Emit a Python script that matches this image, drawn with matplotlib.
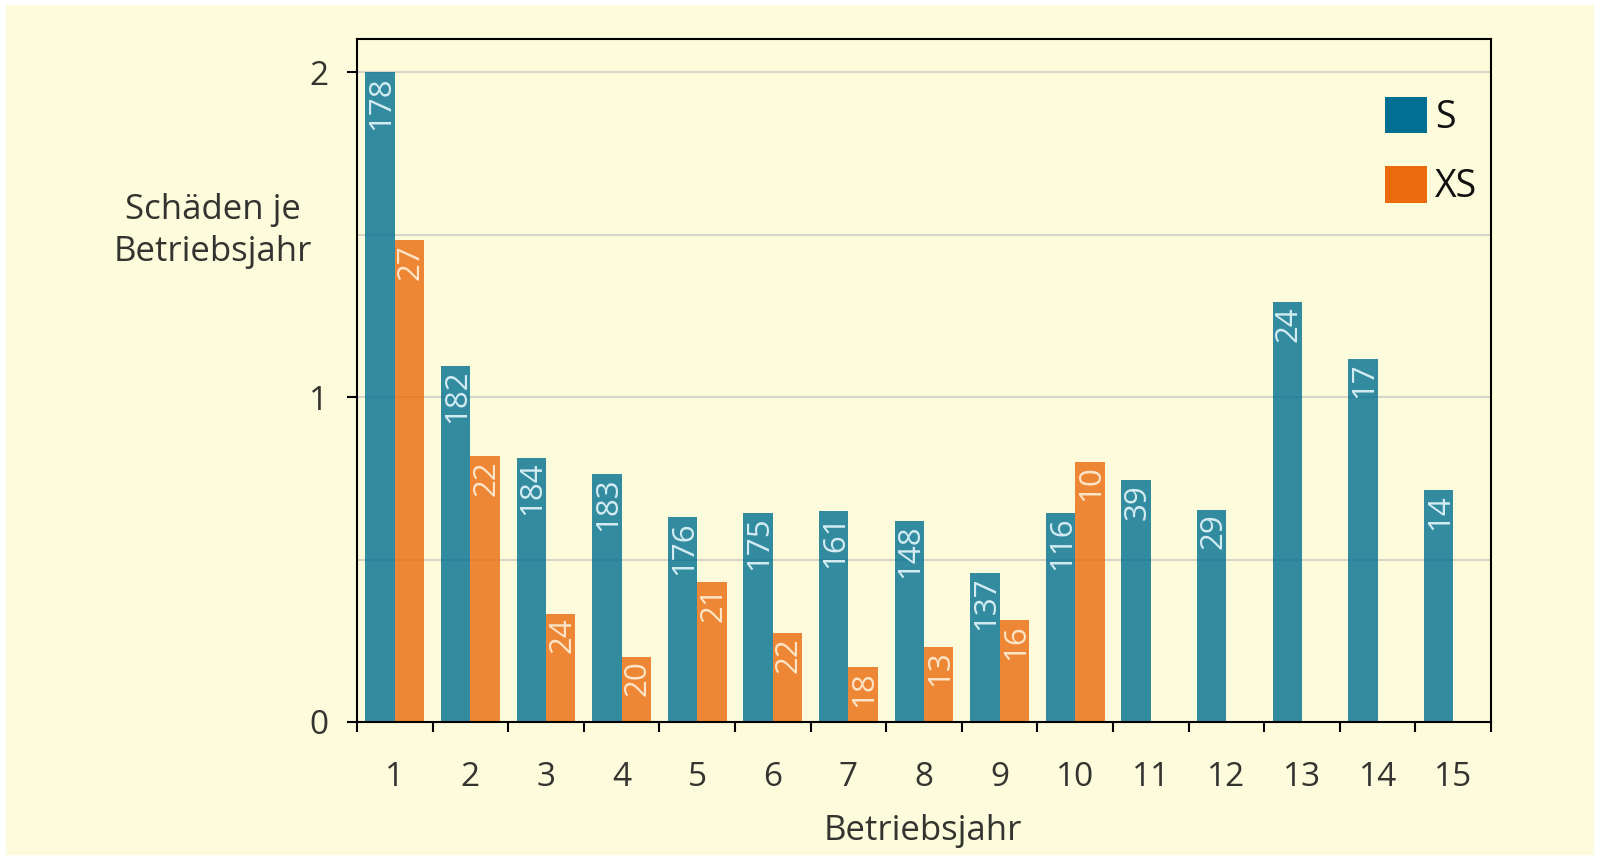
import matplotlib
matplotlib.use("Agg")
import matplotlib.pyplot as plt
from matplotlib.patches import Rectangle, Patch
import numpy as np

plt.rcParams['font.family'] = ['Open Sans', 'DejaVu Sans']

# Schäden je Betriebsjahr, nach Betriebsjahr und Anlagenklasse
years = list(range(1, 16))
s_rate = [2.00, 1.095, 0.814, 0.765, 0.630, 0.645, 0.651, 0.620, 0.459, 0.645,
          0.744, 0.654, 1.292, 1.119, 0.713]
s_count = [178, 182, 184, 183, 176, 175, 161, 148, 137, 116, 39, 29, 24, 17, 14]
xs_rate = [1.483, 0.818, 0.334, 0.201, 0.430, 0.273, 0.168, 0.232, 0.313, 0.802]
xs_count = [27, 22, 24, 20, 21, 22, 18, 13, 16, 10]
series_names = ["S", "XS"]

S_COLOR = "#006F92"
XS_COLOR = "#EA6A0C"
BG = "#FCFBDB"
TXT = "#333330"

W, H = 1600, 859
fig = plt.figure(figsize=(W / 100, H / 100), dpi=100, facecolor="white")
fig.patches.append(Rectangle((6 / W, 4 / H), (W - 12) / W, (H - 9) / H,
                             transform=fig.transFigure, facecolor=BG,
                             edgecolor="none", zorder=-10))

ax = fig.add_axes([357 / W, 1 - 722 / H, (1491 - 357) / W, (722 - 39) / H])
ax.set_facecolor(BG)

bw = 0.39
x_s = np.array(years[:len(s_rate)], dtype=float)
x_xs = np.array(years[:len(xs_rate)], dtype=float)
ax.bar(x_s - bw / 2, s_rate, width=bw, color=S_COLOR, alpha=0.8, zorder=2,
       linewidth=0)
ax.bar(x_xs + bw / 2, xs_rate, width=bw, color=XS_COLOR, alpha=0.8, zorder=2,
       linewidth=0)

for xv, yv, n in zip(x_s - bw / 2, s_rate, s_count):
    ax.annotate(str(n), (xv, yv), xytext=(1, -2.5), textcoords="offset points",
                rotation=90, ha="center", va="top", fontsize=22.5,
                color="#D4ECF2", zorder=3)
for xv, yv, n in zip(x_xs + bw / 2, xs_rate, xs_count):
    ax.annotate(str(n), (xv, yv), xytext=(1, -2.5), textcoords="offset points",
                rotation=90, ha="center", va="top", fontsize=22.5,
                color="#FDE5C9", zorder=3)

ax.set_xlim(0.5, 15.5)
ax.set_ylim(0, 683 / 324.75)

# gridlines every 0.5, labelled ticks every 1
for g in [0.5, 1.0, 1.5, 2.0]:
    ax.axhline(g, color="#D5D5C8", linewidth=1.5, zorder=1)

ax.set_yticks([0, 1, 2])
ax.set_yticklabels(["0", "1", "2"])
ax.set_xticks(np.arange(0.5, 16, 1.0))
ax.set_xticklabels([])
ax.set_xticks(years, minor=True)
ax.set_xticklabels([str(y) for y in years], minor=True)
ax.tick_params(axis="x", which="major", length=7.5, width=1.5, direction="out",
               color="black")
ax.tick_params(axis="x", which="minor", length=0, pad=28, labelsize=24,
               labelcolor=TXT)
ax.tick_params(axis="y", length=7.5, width=1.5, direction="out", color="black",
               pad=13, labelsize=24, labelcolor=TXT)

for sp in ax.spines.values():
    sp.set_linewidth(1.5)
    sp.set_color("black")

fig.text(213 / W, 1 - 231 / H, "Schäden je\nBetriebsjahr", ha="center",
         va="center", fontsize=25, color=TXT, linespacing=1.3)
fig.text(923 / W, 1 - 831 / H, "Betriebsjahr", ha="center", va="center",
         fontsize=25, color=TXT)

handles = [Patch(facecolor=S_COLOR, edgecolor="none"),
           Patch(facecolor=XS_COLOR, edgecolor="none")]
ax.legend(handles, series_names, loc="upper left",
          bbox_to_anchor=(1385 / W, 1 - 97 / H), bbox_transform=fig.transFigure,
          frameon=False, fontsize=27, handlelength=1.12, handleheight=1.12,
          handletextpad=0.22, labelspacing=0.78, borderpad=0, borderaxespad=0,
          labelcolor="#111111")

fig.savefig("out.png", dpi=100, facecolor="white")
